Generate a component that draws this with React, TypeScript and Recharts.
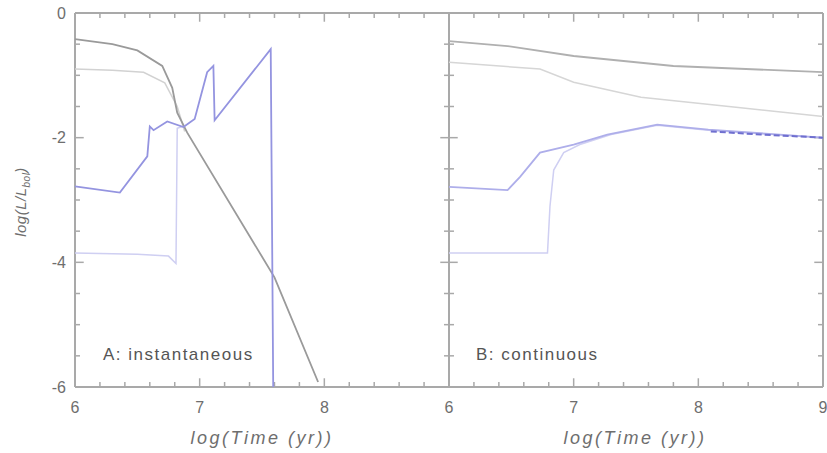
import { LineChart, Line, XAxis, YAxis, ReferenceLine } from 'recharts';

// [log time, log luminosity] pairs for each curve
const instDark = [[6.0, -0.42], [6.3, -0.5], [6.5, -0.6], [6.7, -0.85], [6.78, -1.2], [6.82, -1.6], [6.9, -1.92], [7.6, -4.24], [7.95, -5.92]];
const instGrey = [[6.0, -0.9], [6.3, -0.92], [6.55, -0.95], [6.72, -1.12], [6.82, -1.5], [6.88, -1.9]];
const instBlue = [[6.0, -2.78], [6.36, -2.88], [6.58, -2.3], [6.6, -1.82], [6.63, -1.88], [6.74, -1.74], [6.87, -1.83], [6.96, -1.7], [7.06, -0.95], [7.11, -0.85], [7.12, -1.72], [7.57, -0.58], [7.59, -6.0]];
const instPale = [[6.0, -3.85], [6.5, -3.87], [6.75, -3.9], [6.81, -4.02], [6.82, -1.85], [6.86, -1.82]];

const contDark = [[6.0, -0.45], [6.47, -0.53], [7.0, -0.69], [7.8, -0.85], [9.0, -0.95]];
const contGrey = [[6.0, -0.79], [6.73, -0.9], [7.0, -1.11], [7.54, -1.35], [8.34, -1.52], [9.0, -1.66]];
const contBlue = [[6.0, -2.79], [6.47, -2.84], [6.57, -2.63], [6.73, -2.24], [7.0, -2.11], [7.27, -1.95], [7.67, -1.79], [8.08, -1.87], [9.0, -2.0]];
const contPale = [[6.0, -3.85], [6.79, -3.85], [6.81, -3.1], [6.84, -2.52], [6.92, -2.24], [7.05, -2.11], [7.3, -1.95], [7.67, -1.8], [8.08, -1.88], [9.0, -2.0]];
const contTail = [[8.1, -1.9], [8.5, -1.95], [9.0, -2.0]];

const xMinor = [6.2, 6.4, 6.6, 6.8, 7, 7.2, 7.4, 7.6, 7.8, 8, 8.2, 8.4, 8.6, 8.8];
const yMinor = [-0.5, -1, -1.5, -2, -2.5, -3, -3.5, -4, -4.5, -5, -5.5];
const xLabels = [6, 7, 8, 9];
const yLabels = [0, -2, -4, -6];

const X_MIN = 6, X_MAX = 9, Y_MIN = -6, Y_MAX = 0;

const AXIS = 'darkgray';
const TEXT = '#6e6e6e';
const FONT = '"Liberation Sans", Arial, sans-serif';

const toRows = (pts: number[][]) => pts.map(([t, l]) => ({ t, l }));
const isIn = (v: number, list: number[]) => list.some((m) => Math.abs(m - v) < 1e-6);

const tickFont = { fill: TEXT, fontSize: 16, fontFamily: FONT };

type Curve = { pts: number[][]; color: string; w: number; dash?: string };

function Panel({ width, margin, hideLast, showY, curves }: {
  width: number; margin: any; hideLast: boolean; showY: boolean; curves: Curve[];
}) {
  return (
    <LineChart width={width} height={453} margin={margin}>
      <XAxis xAxisId="b" dataKey="t" type="number" domain={[X_MIN, X_MAX]} tickCount={xLabels.length}
        height={66} tickLine={{ stroke: 'none' }} tickMargin={9} axisLine={false} tick={tickFont}
        tickFormatter={(v: number) => (hideLast && v === X_MAX ? '' : String(v))} />
      <YAxis yAxisId="l" dataKey="l" type="number" domain={[Y_MIN, Y_MAX]} tickCount={yLabels.length}
        width={showY ? 75 : 0} tickLine={{ stroke: 'none' }} tickMargin={3} axisLine={false}
        tick={showY ? tickFont : false} />
      <ReferenceLine xAxisId="b" yAxisId="l" y={Y_MIN} stroke={AXIS} strokeWidth={2} />
      <ReferenceLine xAxisId="b" yAxisId="l" y={Y_MAX} stroke={AXIS} strokeWidth={2} />
      <ReferenceLine xAxisId="b" yAxisId="l" x={X_MIN} stroke={AXIS} strokeWidth={2} />
      <ReferenceLine xAxisId="b" yAxisId="l" x={X_MAX} stroke={AXIS} strokeWidth={2} />
      {xMinor.map((t) => (
        <ReferenceLine key={`xb${t}`} xAxisId="b" yAxisId="l" stroke={AXIS} strokeWidth={1.5}
          segment={[{ x: t, y: Y_MIN }, { x: t, y: Y_MIN + (isIn(t, xLabels) ? 0.14 : 0.08) }]} />
      ))}
      {xMinor.map((t) => (
        <ReferenceLine key={`xt${t}`} xAxisId="b" yAxisId="l" stroke={AXIS} strokeWidth={1.5}
          segment={[{ x: t, y: Y_MAX }, { x: t, y: Y_MAX - (isIn(t, xLabels) ? 0.14 : 0.08) }]} />
      ))}
      {yMinor.map((v) => (
        <ReferenceLine key={`yl${v}`} xAxisId="b" yAxisId="l" stroke={AXIS} strokeWidth={1.5}
          segment={[{ x: X_MIN, y: v }, { x: X_MIN + (isIn(v, yLabels) ? 0.07 : 0.04), y: v }]} />
      ))}
      {yMinor.map((v) => (
        <ReferenceLine key={`yr${v}`} xAxisId="b" yAxisId="l" stroke={AXIS} strokeWidth={1.5}
          segment={[{ x: X_MAX, y: v }, { x: X_MAX - (isIn(v, yLabels) ? 0.07 : 0.04), y: v }]} />
      ))}
      {curves.map((c, i) => (
        <Line key={`c${i}`} xAxisId="b" yAxisId="l" data={toRows(c.pts)} dataKey="l" type="linear" stroke={c.color}
          strokeWidth={c.w} strokeDasharray={c.dash} dot={false} isAnimationActive={false} />
      ))}
    </LineChart>
  );
}

const panelText: React.CSSProperties = {
  position: 'absolute', fontSize: 17, lineHeight: '17px', letterSpacing: 1.5, fontFamily: FONT, color: '#555', whiteSpace: 'nowrap',
};
const titleText: React.CSSProperties = {
  position: 'absolute', width: 300, textAlign: 'center', fontSize: 18, lineHeight: '18px', fontStyle: 'italic',
  letterSpacing: 2.5, fontFamily: FONT, color: TEXT, whiteSpace: 'nowrap',
};

export default function App() {
  return (
    <div style={{ position: 'absolute', left: 0, top: 0, width: 827, height: 453 }}>
      <div style={{ position: 'absolute', left: 0, top: 0 }}>
        <Panel width={451} margin={{ top: 13, right: 2, bottom: 0, left: 0 }} hideLast showY
          curves={[
            { pts: instPale, color: '#cfcff2', w: 1.5 },
            { pts: instGrey, color: '#d2d2d2', w: 1.5 },
            { pts: instDark, color: '#9a9a9a', w: 1.8 },
            { pts: instBlue, color: '#9494e0', w: 1.8 },
          ]} />
      </div>
      <div style={{ position: 'absolute', left: 420, top: 0 }}>
        <Panel width={407} margin={{ top: 13, right: 4, bottom: 0, left: 29 }} hideLast={false} showY={false}
          curves={[
            { pts: contGrey, color: '#d6d6d6', w: 1.5 },
            { pts: contDark, color: '#b0b0b0', w: 1.8 },
            { pts: contPale, color: '#cfcff2', w: 1.5 },
            { pts: contBlue, color: '#aeaeea', w: 1.8 },
            { pts: contTail, color: '#6f6fcf', w: 2, dash: '6 3' },
          ]} />
      </div>
      <div style={{ ...panelText, left: 103, top: 346 }}>A: instantaneous</div>
      <div style={{ ...panelText, left: 476, top: 346 }}>B: continuous</div>
      <div style={{ ...titleText, left: 112, top: 429 }}>log(Time (yr))</div>
      <div style={{ ...titleText, left: 485, top: 429 }}>log(Time (yr))</div>
      <div style={{
        position: 'absolute', left: 22, top: 202, transform: 'translate(-50%, -50%) rotate(-90deg)',
        fontSize: 15, fontStyle: 'italic', letterSpacing: 0.5, fontFamily: FONT, color: TEXT, whiteSpace: 'nowrap',
      }}>
        log(L/L<sub style={{ fontSize: 10 }}>bol</sub>)
      </div>
    </div>
  );
}
